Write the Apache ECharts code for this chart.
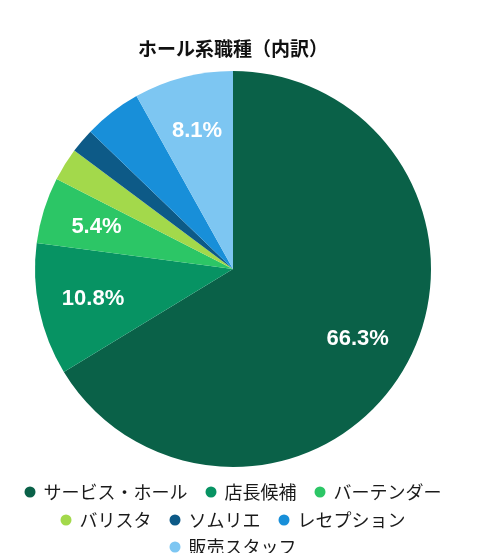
<!DOCTYPE html>
<html>
<head>
<meta charset="utf-8">
<script src="https://cdn.jsdelivr.net/npm/echarts@6/dist/echarts.min.js"></script>
<style>
  html, body { margin: 0; padding: 0; background: #fff; }
  #main { width: 466px; height: 553px; }
</style>
</head>
<body>
<div id="main"></div>
<script>
var chartTitle = 'ホール系職種（内訳）';
var jobNames = ['サービス・ホール', '店長候補', 'バーテンダー', 'バリスタ', 'ソムリエ', 'レセプション', '販売スタッフ'];
var jobShares = [66.3, 10.8, 5.4, 2.7, 2.0, 4.7, 8.1];
var jobColors = ['#0a6148', '#079363', '#2cc666', '#a3d94b', '#0d5a87', '#188fd9', '#7dc6f2'];
var legendRows = [[0, 1, 2], [3, 4, 5], [6]];

var pieData = [];
for (var i = 0; i < jobNames.length; i++) {
    pieData.push({ name: jobNames[i], value: jobShares[i], itemStyle: { color: jobColors[i] } });
}

var jpFont = '"Noto Sans CJK JP", "Noto Sans", sans-serif';

var legends = [];
var rowTops = [478, 506, 533];
for (var r = 0; r < legendRows.length; r++) {
    legends.push({
        left: 'center',
        top: rowTops[r],
        icon: 'circle',
        itemWidth: 17,
        itemHeight: 11,
        itemGap: 18,
        selectedMode: false,
        data: legendRows[r].map(function (k) { return jobNames[k]; }),
        textStyle: { fontFamily: jpFont, fontSize: 18, color: '#1a1a1a' }
    });
}

var option = {
    animation: false,
    title: {
        text: chartTitle,
        left: 'center',
        top: 34,
        textStyle: { fontFamily: jpFont, fontSize: 19, fontWeight: 'bold', color: '#111' }
    },
    legend: legends,
    series: [
        {
            type: 'pie',
            center: [233, 269],
            radius: [0, 198],
            startAngle: 90,
            clockwise: true,
            label: { show: false },
            labelLine: { show: false },
            emphasis: { disabled: true },
            data: pieData
        },
        {
            // see-through ring, only there to put the percent labels further out
            type: 'pie',
            center: [233, 269],
            radius: [82, 198],
            startAngle: 90,
            clockwise: true,
            silent: true,
            itemStyle: { color: 'rgba(0,0,0,0)' },
            labelLine: { show: false },
            label: {
                show: true,
                position: 'inside',
                color: '#fff',
                fontFamily: '"Liberation Sans", Arial, sans-serif',
                fontWeight: 'bold',
                fontSize: 22,
                formatter: function (p) {
                    return p.value >= 5 ? p.value.toFixed(1) + '%' : '';
                }
            },
            emphasis: { disabled: true },
            data: pieData.map(function (d) { return { name: d.name, value: d.value }; })
        }
    ]
};

var chart = echarts.init(document.getElementById('main'));
chart.setOption(option);
</script>
</body>
</html>
